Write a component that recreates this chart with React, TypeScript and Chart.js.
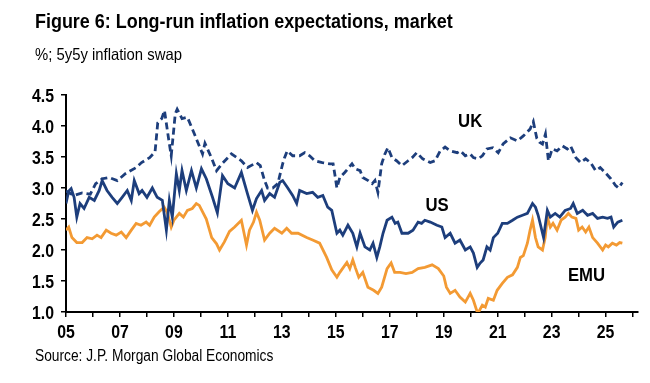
import React, { useEffect, useRef } from 'react';
import { Chart, registerables } from 'chart.js';

Chart.register(...registerables);

const FONT = "'Liberation Sans', Arial, sans-serif";

const TITLE = 'Figure 6: Long-run inflation expectations, market';
const SUBTITLE = '%; 5y5y inflation swap';
const SOURCE = 'Source: J.P. Morgan Global Economics';

const ukDates = [2005.0, 2005.3, 2005.6, 2005.9, 2006.1, 2006.35, 2006.6, 2006.9, 2007.2, 2007.6, 2007.8, 2008.1, 2008.3, 2008.4, 2008.55, 2008.65, 2008.8, 2008.9, 2009.05, 2009.12, 2009.3, 2009.5, 2009.76, 2010.06, 2010.15, 2010.39, 2010.58, 2010.8, 2011.13, 2011.5, 2011.73, 2012.06, 2012.2, 2012.36, 2012.47, 2012.66, 2012.85, 2013.03, 2013.1, 2013.2, 2013.4, 2013.66, 2013.85, 2014.03, 2014.22, 2014.5, 2014.78, 2014.9, 2014.96, 2015.04, 2015.15, 2015.33, 2015.6, 2015.72, 2015.9, 2016.0, 2016.2, 2016.35, 2016.45, 2016.56, 2016.7, 2016.82, 2016.93, 2017.08, 2017.25, 2017.45, 2017.68, 2017.83, 2018.0, 2018.22, 2018.5, 2018.68, 2018.87, 2019.05, 2019.24, 2019.5, 2019.62, 2019.8, 2019.98, 2020.1, 2020.28, 2020.43, 2020.6, 2020.82, 2021.02, 2021.2, 2021.47, 2021.73, 2021.95, 2022.2, 2022.32, 2022.45, 2022.55, 2022.66, 2022.77, 2022.88, 2023.02, 2023.2, 2023.4, 2023.58, 2023.7, 2023.9, 2024.07, 2024.26, 2024.44, 2024.63, 2024.8, 2024.98, 2025.19, 2025.37, 2025.48, 2025.62];
const ukValues = [2.95, 2.88, 2.92, 2.9, 3.07, 3.15, 3.17, 3.12, 3.23, 3.33, 3.41, 3.49, 3.58, 4.05, 4.12, 4.25, 3.8, 3.52, 4.2, 4.27, 4.12, 4.14, 3.87, 3.55, 3.72, 3.49, 3.28, 3.4, 3.55, 3.44, 3.33, 3.41, 3.36, 3.12, 3.0, 3.0, 3.07, 3.39, 3.49, 3.6, 3.52, 3.52, 3.57, 3.52, 3.44, 3.41, 3.39, 3.39, 3.23, 3.0, 3.17, 3.25, 3.39, 3.31, 3.28, 3.17, 3.12, 3.07, 3.12, 2.93, 3.39, 3.55, 3.65, 3.49, 3.44, 3.36, 3.44, 3.49, 3.57, 3.47, 3.41, 3.44, 3.6, 3.66, 3.6, 3.57, 3.6, 3.52, 3.55, 3.49, 3.47, 3.52, 3.63, 3.65, 3.57, 3.71, 3.81, 3.76, 3.84, 3.95, 4.07, 3.8, 3.74, 3.71, 3.87, 3.44, 3.63, 3.6, 3.68, 3.63, 3.68, 3.49, 3.41, 3.47, 3.41, 3.28, 3.33, 3.25, 3.15, 3.04, 3.0, 3.09];

const usDates = [2005.0, 2005.1, 2005.19, 2005.3, 2005.4, 2005.52, 2005.67, 2005.86, 2006.05, 2006.23, 2006.34, 2006.52, 2006.71, 2006.9, 2007.08, 2007.27, 2007.42, 2007.53, 2007.71, 2007.82, 2008.0, 2008.2, 2008.38, 2008.57, 2008.72, 2008.83, 2008.94, 2009.09, 2009.2, 2009.3, 2009.46, 2009.65, 2009.83, 2010.02, 2010.2, 2010.43, 2010.61, 2010.8, 2011.0, 2011.25, 2011.5, 2011.73, 2011.91, 2012.06, 2012.25, 2012.36, 2012.55, 2012.73, 2012.92, 2013.03, 2013.22, 2013.4, 2013.55, 2013.66, 2013.92, 2014.14, 2014.33, 2014.52, 2014.7, 2014.85, 2015.04, 2015.15, 2015.26, 2015.45, 2015.63, 2015.78, 2015.9, 2016.08, 2016.26, 2016.38, 2016.52, 2016.63, 2016.75, 2016.9, 2017.08, 2017.2, 2017.3, 2017.45, 2017.68, 2017.86, 2018.05, 2018.18, 2018.3, 2018.5, 2018.75, 2018.93, 2019.05, 2019.24, 2019.42, 2019.6, 2019.8, 2019.98, 2020.1, 2020.24, 2020.35, 2020.46, 2020.6, 2020.72, 2020.84, 2021.0, 2021.17, 2021.36, 2021.55, 2021.73, 2021.92, 2022.1, 2022.29, 2022.4, 2022.5, 2022.7, 2022.84, 2022.95, 2023.13, 2023.3, 2023.5, 2023.7, 2023.8, 2023.95, 2024.15, 2024.33, 2024.52, 2024.7, 2024.89, 2025.07, 2025.2, 2025.3, 2025.45, 2025.62];
const usValues = [2.75, 2.95, 2.99, 2.85, 2.53, 2.75, 2.67, 2.85, 2.8, 2.96, 3.12, 2.96, 2.85, 2.75, 2.85, 2.96, 2.8, 3.12, 2.91, 2.96, 2.85, 3.0, 2.85, 2.8, 2.32, 2.8, 2.53, 3.23, 2.96, 3.28, 2.96, 3.28, 3.0, 3.31, 3.15, 2.85, 2.6, 3.2, 3.07, 3.0, 3.25, 2.9, 2.64, 2.83, 2.96, 2.8, 2.91, 2.85, 3.09, 3.12, 3.0, 2.88, 2.75, 2.96, 2.91, 2.93, 2.85, 2.88, 2.69, 2.64, 2.27, 2.32, 2.24, 2.4, 2.27, 2.05, 2.27, 2.05, 2.0, 2.11, 1.88, 2.05, 2.27, 2.48, 2.53, 2.43, 2.45, 2.27, 2.27, 2.32, 2.45, 2.43, 2.48, 2.45, 2.4, 2.37, 2.2, 2.27, 2.11, 2.16, 2.0, 2.05, 1.95, 1.72, 1.79, 1.84, 2.05, 2.0, 2.2, 2.27, 2.43, 2.43, 2.48, 2.53, 2.56, 2.59, 2.75, 2.69, 2.56, 2.2, 2.64, 2.53, 2.59, 2.53, 2.64, 2.67, 2.75, 2.59, 2.64, 2.56, 2.59, 2.51, 2.53, 2.51, 2.53, 2.37, 2.45, 2.48];

const emuDates = [2005.0, 2005.1, 2005.22, 2005.4, 2005.6, 2005.78, 2005.97, 2006.15, 2006.3, 2006.49, 2006.67, 2006.86, 2007.05, 2007.23, 2007.42, 2007.6, 2007.78, 2007.97, 2008.1, 2008.27, 2008.46, 2008.64, 2008.75, 2008.9, 2009.0, 2009.2, 2009.35, 2009.5, 2009.68, 2009.83, 2009.94, 2010.2, 2010.4, 2010.58, 2010.69, 2010.87, 2011.06, 2011.25, 2011.5, 2011.69, 2011.8, 2011.95, 2012.06, 2012.18, 2012.36, 2012.55, 2012.73, 2013.0, 2013.18, 2013.36, 2013.6, 2013.92, 2014.14, 2014.4, 2014.66, 2014.85, 2015.04, 2015.15, 2015.41, 2015.52, 2015.63, 2015.72, 2015.85, 2016.0, 2016.19, 2016.4, 2016.56, 2016.7, 2016.9, 2017.05, 2017.18, 2017.38, 2017.6, 2017.83, 2018.05, 2018.3, 2018.57, 2018.8, 2019.0, 2019.1, 2019.24, 2019.42, 2019.6, 2019.8, 2019.98, 2020.1, 2020.24, 2020.32, 2020.43, 2020.54, 2020.65, 2020.84, 2020.98, 2021.17, 2021.36, 2021.55, 2021.73, 2021.84, 2021.95, 2022.1, 2022.2, 2022.29, 2022.4, 2022.5, 2022.66, 2022.76, 2022.84, 2022.95, 2023.05, 2023.2, 2023.35, 2023.5, 2023.62, 2023.75, 2023.9, 2024.0, 2024.13, 2024.26, 2024.38, 2024.52, 2024.7, 2024.89, 2025.0, 2025.1, 2025.25, 2025.4, 2025.52, 2025.62];
const emuValues = [2.32, 2.37, 2.2, 2.12, 2.12, 2.2, 2.18, 2.24, 2.2, 2.32, 2.27, 2.24, 2.29, 2.2, 2.32, 2.43, 2.4, 2.45, 2.4, 2.53, 2.62, 2.69, 2.61, 2.37, 2.48, 2.59, 2.53, 2.64, 2.67, 2.75, 2.72, 2.5, 2.2, 2.1, 2.0, 2.13, 2.3, 2.37, 2.48, 2.08, 2.32, 2.45, 2.61, 2.48, 2.16, 2.27, 2.35, 2.27, 2.35, 2.27, 2.27, 2.2, 2.16, 2.11, 1.88, 1.68, 1.56, 1.64, 1.8, 1.7, 1.84, 1.72, 1.56, 1.64, 1.4, 1.35, 1.3, 1.4, 1.7, 1.79, 1.64, 1.64, 1.62, 1.64, 1.7, 1.72, 1.76, 1.7, 1.58, 1.4, 1.3, 1.35, 1.24, 1.16, 1.3, 1.19, 1.0, 1.02, 1.11, 1.08, 1.22, 1.19, 1.35, 1.46, 1.56, 1.6, 1.72, 1.88, 1.91, 2.11, 2.32, 2.48, 2.2, 2.05, 2.0, 2.2, 2.53, 2.37, 2.43, 2.32, 2.48, 2.53, 2.59, 2.53, 2.51, 2.32, 2.37, 2.29, 2.37, 2.2, 2.11, 2.0, 2.08, 2.05, 2.11, 2.08, 2.12, 2.11];

const seriesNames = ['US', 'UK', 'EMU'];
const labelYears = [2018.75, 2019.98, 2024.29];
const labelValues = [2.72, 4.07, 1.58];

const X_MIN = 2005;
const X_MAX = 2026.2;
const Y_MIN = 1.0;
const Y_MAX = 4.5;

const NAVY = '#1d3e7c';
const ORANGE = '#f39a33';
const SQUEEZE = 0.88;

const toPoints = (xs: number[], ys: number[]) => xs.map((x, i) => ({ x, y: ys[i] }));

const xLabel = (v: number) => {
  const n = Math.round(v);
  return n % 2 === 1 ? String(n % 100).padStart(2, '0') : '';
};

function squeezedText(ctx: any, text: string, x: number, y: number, align: string) {
  ctx.save();
  ctx.translate(x, y);
  ctx.scale(SQUEEZE, 1);
  ctx.textAlign = align;
  ctx.fillText(text, 0, 0);
  ctx.restore();
}

const textPlugin = {
  id: 'squeezedText',
  afterDraw(chart: any) {
    const { ctx, scales } = chart;
    ctx.save();
    ctx.fillStyle = '#000';
    ctx.textBaseline = 'middle';
    ctx.font = `bold 18px ${FONT}`;
    scales.x.ticks.forEach((t: any) => {
      const lab = xLabel(t.value);
      if (lab) squeezedText(ctx, lab, scales.x.getPixelForValue(t.value), scales.x.top + 21, 'center');
    });
    scales.y.ticks.forEach((t: any) => {
      squeezedText(ctx, Number(t.value).toFixed(1), scales.y.right - 12, scales.y.getPixelForValue(t.value) + 2, 'right');
    });
    ctx.font = `bold 19px ${FONT}`;
    seriesNames.forEach((name, i) => {
      squeezedText(ctx, name, scales.x.getPixelForValue(labelYears[i]), scales.y.getPixelForValue(labelValues[i]), 'center');
    });
    ctx.restore();
  },
};

export default function App() {
  const ref = useRef<HTMLCanvasElement>(null);
  useEffect(() => {
    if (!ref.current) return;
    const chart = new Chart(ref.current, {
      type: 'line',
      data: {
        datasets: [
          { label: 'US', data: toPoints(usDates, usValues), borderColor: NAVY, borderWidth: 2.8, pointRadius: 0, tension: 0 },
          { label: 'UK', data: toPoints(ukDates, ukValues), borderColor: NAVY, borderWidth: 2.8, borderDash: [7, 4], pointRadius: 0, tension: 0 },
          { label: 'EMU', data: toPoints(emuDates, emuValues), borderColor: ORANGE, borderWidth: 2.8, pointRadius: 0, tension: 0 },
        ],
      },
      options: {
        responsive: false,
        animation: false,
        devicePixelRatio: 1,
        layout: { padding: { left: 0, right: 12, top: 95, bottom: 0 } },
        plugins: { legend: { display: false }, tooltip: { enabled: false }, title: { display: false } },
        scales: {
          x: {
            type: 'linear',
            min: X_MIN,
            max: X_MAX,
            afterFit: (s: any) => { s.height = 71; },
            border: { color: '#000', width: 2 },
            grid: { drawOnChartArea: false, drawTicks: true, tickLength: 5, color: '#000', lineWidth: 1.5 },
            ticks: {
              stepSize: 1,
              includeBounds: false,
              autoSkip: false,
              maxRotation: 0,
              color: 'rgba(0,0,0,0)',
              font: { family: FONT, size: 16, weight: 'bold' },
              callback: (v: any) => xLabel(Number(v)),
            },
          },
          y: {
            min: Y_MIN,
            max: Y_MAX,
            afterFit: (s: any) => { s.width = 66; },
            border: { color: '#000', width: 2 },
            grid: { drawOnChartArea: false, drawTicks: true, tickLength: 5, color: '#000', lineWidth: 1.5 },
            ticks: {
              stepSize: 0.5,
              color: 'rgba(0,0,0,0)',
              font: { family: FONT, size: 16, weight: 'bold' },
              callback: (v: any) => Number(v).toFixed(1),
            },
          },
        },
      },
      plugins: [textPlugin],
    } as any);
    return () => chart.destroy();
  }, []);

  const textBase: any = { position: 'absolute', left: 35, lineHeight: 1, color: '#000', whiteSpace: 'nowrap', fontFamily: FONT, transformOrigin: '0 0' };

  return (
    <div style={{ position: 'fixed', left: 0, top: 0, width: 650, height: 383, background: '#fff', overflow: 'hidden' }}>
      <canvas ref={ref} width={650} height={383} style={{ position: 'absolute', left: 0, top: 0, width: 650, height: 383 }} />
      <div style={{ ...textBase, top: 11, fontWeight: 'bold', fontSize: 20, transform: 'scaleX(0.897)' }}>{TITLE}</div>
      <div style={{ ...textBase, top: 46, fontSize: 16.5, transform: 'scaleX(0.9)' }}>{SUBTITLE}</div>
      <div style={{ ...textBase, top: 348, fontSize: 16, transform: 'scaleX(0.86)' }}>{SOURCE}</div>
    </div>
  );
}
